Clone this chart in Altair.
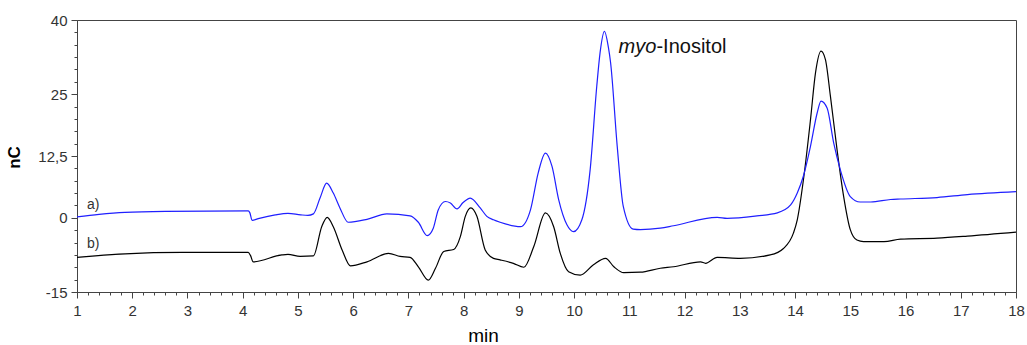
import altair as alt
import pandas as pd

# Trace a) - blue chromatogram
time_a = [1.0, 1.4, 1.87, 2.6, 4.1, 4.13, 4.17, 4.3, 4.59, 4.82, 5.05, 5.18, 5.28, 5.4,
          5.52, 5.64, 5.76, 5.91, 6.25, 6.61, 7.03, 7.18, 7.34, 7.45, 7.54, 7.67, 7.76,
          7.88, 7.99, 8.12, 8.3, 8.42, 8.54, 8.66, 9.03, 9.21, 9.35, 9.48, 9.6, 9.72,
          9.87, 9.99, 10.14, 10.29, 10.41, 10.47, 10.55, 10.62, 10.66, 10.78, 10.89,
          11.07, 11.2, 11.56, 11.8, 12.59, 12.77, 13.31, 13.68, 13.92, 14.04, 14.15,
          14.28, 14.4, 14.47, 14.58, 14.7, 14.82, 15.0, 15.18, 15.37, 15.73, 15.91,
          16.57, 17.12, 18.0]
nc_a = [0.2, 0.7, 1.1, 1.3, 1.4, 1.0, -0.5, -0.1, 0.6, 0.9, 0.6, 0.5, 0.8, 4.0,
        7.0, 5.0, 2.0, -0.9, -0.3, 0.8, 0.4, -0.9, -3.6, -2.1, 1.6, 3.3, 3.0,
        1.8, 3.1, 4.0, 2.0, 0.3, -0.4, -0.9, -1.8, 1.6, 9.1, 13.1, 10.4, 3.7,
        -1.4, -2.8, -0.4, 9.7, 26.6, 33.4, 37.7, 34.5, 31.4, 14.5, 2.3,
        -2.3, -2.4, -2.1, -1.6, 0.1, -0.1, 0.4, 1.0, 2.6, 5.0, 8.4,
        14.5, 21.2, 23.6, 22.2, 15.1, 9.7, 4.3, 3.2, 3.2, 3.7, 3.8,
        4.1, 4.7, 5.3]

# Trace b) - black chromatogram
time_b = [1.0, 1.33, 1.87, 2.9, 4.1, 4.14, 4.19, 4.71, 4.82, 5.04, 5.28, 5.43, 5.53,
          5.64, 5.8, 5.95, 6.25, 6.64, 6.85, 7.03, 7.18, 7.36, 7.49, 7.64, 7.82, 7.94,
          8.03, 8.13, 8.24, 8.39, 8.54, 8.66, 8.9, 9.09, 9.27, 9.48, 9.63, 9.75, 9.9,
          10.11, 10.35, 10.57, 10.72, 10.9, 11.2, 11.56, 11.8, 12.29, 12.38, 12.59,
          13.01, 13.55, 13.79, 13.97, 14.04, 14.16, 14.28, 14.37, 14.47, 14.55, 14.64,
          14.76, 14.88, 15.0, 15.12, 15.24, 15.61, 15.91, 16.57, 17.12, 18.0]
nc_b = [-8.0, -7.7, -7.3, -7.0, -7.0, -7.6, -8.9, -7.5, -7.4, -7.8, -7.7, -1.8, 0.1,
        -1.8, -6.5, -9.7, -8.9, -7.2, -7.8, -8.0, -9.9, -12.6, -10.2, -6.8, -6.4, -3.8,
        0.3, 2.0, 0.3, -6.5, -8.2, -8.5, -9.2, -10.0, -5.8, 1.0, -1.8, -7.2, -10.9,
        -11.6, -9.5, -8.2, -9.9, -11.1, -11.0, -10.2, -9.9, -8.9, -9.2, -8.0,
        -8.2, -7.5, -6.2, -3.1, -0.4, 8.4, 19.9, 29.3, 33.7, 32.0, 24.6,
        13.8, 4.3, -2.4, -4.5, -4.8, -4.8, -4.3, -4.1, -3.7, -2.9]

# Axis tick values and labelled (major) values
y_major = [40, 25, 12.5, 0, -15]
y_ticks = [round(-15 + 2.5 * i, 1) for i in range(23)]
x_ticks = [round(1 + 0.2 * i, 1) for i in range(86)]

# Trace labels and peak annotation
trace_labels = ["a)", "b)"]
trace_label_time = [1.18, 1.18]
trace_label_nc = [1.87, -6.2]
peak_time = 11.49
peak_nc = 33.3

df_a = pd.DataFrame({"time": time_a, "nC": nc_a})
df_b = pd.DataFrame({"time": time_b, "nC": nc_b})
df_lab = pd.DataFrame({"time": trace_label_time, "nC": trace_label_nc, "label": trace_labels})
df_peak = pd.DataFrame({"time": [peak_time], "nC": [peak_nc]})

major_test = "indexof([" + ",".join(str(v) for v in y_major) + "], datum.value) >= 0"

x_enc = alt.X(
    "time:Q",
    scale=alt.Scale(domain=[1, 18], nice=False, zero=False),
    axis=alt.Axis(
        values=x_ticks,
        labelExpr="datum.value % 1 === 0 ? format(datum.value, 'd') : ''",
        tickSize={"condition": {"test": "datum.value % 1 === 0", "value": 6}, "value": 3},
        labelOverlap=False,
        labelFlush=False,
        labelPadding=5,
        grid=False,
        title="min",
        titleX=406,
        titleY=49,
        titleAlign="center",
        titleBaseline="alphabetic",
        titleFontSize=19,
        titleFontWeight="normal",
    ),
)
y_enc = alt.Y(
    "nC:Q",
    scale=alt.Scale(domain=[-15, 40], nice=False, zero=False),
    axis=alt.Axis(
        values=y_ticks,
        labelExpr=major_test + " ? replace(toString(datum.value), '.', ',') : ''",
        tickSize={"condition": {"test": major_test, "value": 6}, "value": 3},
        labelOverlap=False,
        labelFlush=False,
        labelPadding=4,
        grid=False,
        title="nC",
        titleX=-58,
        titleY=137,
        titleAlign="center",
        titleBaseline="alphabetic",
        titleFontSize=17,
        titleFontWeight="bold",
    ),
)

line_b = alt.Chart(df_b).mark_line(color="#000000", strokeWidth=1.2, interpolate="monotone").encode(
    x=x_enc, y=y_enc
)
line_a = alt.Chart(df_a).mark_line(color="#1f1fff", strokeWidth=1.2, interpolate="monotone").encode(
    x=x_enc, y=y_enc
)
labels = alt.Chart(df_lab).mark_text(
    align="left", baseline="alphabetic", fontSize=14, font="Liberation Sans", color="#333333"
).encode(x=x_enc, y=y_enc, text="label:N")
peak_italic = alt.Chart(df_peak).mark_text(
    text="myo", align="right", baseline="alphabetic", fontSize=20, fontStyle="italic",
    font="Liberation Sans", color="#111111"
).encode(x=x_enc, y=y_enc)
peak_rest = alt.Chart(df_peak).mark_text(
    text="-Inositol", align="left", baseline="alphabetic", fontSize=20,
    font="Liberation Sans", color="#111111"
).encode(x=x_enc, y=y_enc)

chart = alt.layer(line_b, line_a, labels, peak_italic, peak_rest).properties(
    width=939,
    height=272,
    padding={"left": 77, "top": 20, "right": 11, "bottom": 53},
    autosize=alt.AutoSizeParams(type="none"),
    background="white",
).configure_view(
    stroke="#444444", strokeWidth=1
).configure_axis(
    domainColor="#444444",
    tickColor="#444444",
    labelColor="#333333",
    labelFont="Liberation Sans",
    labelFontSize=15,
    labelOverlap=False,
    titleFont="Liberation Sans",
    titleColor="#000000",
)

chart.save("out.html", embed_options={"renderer": "svg", "actions": False})
